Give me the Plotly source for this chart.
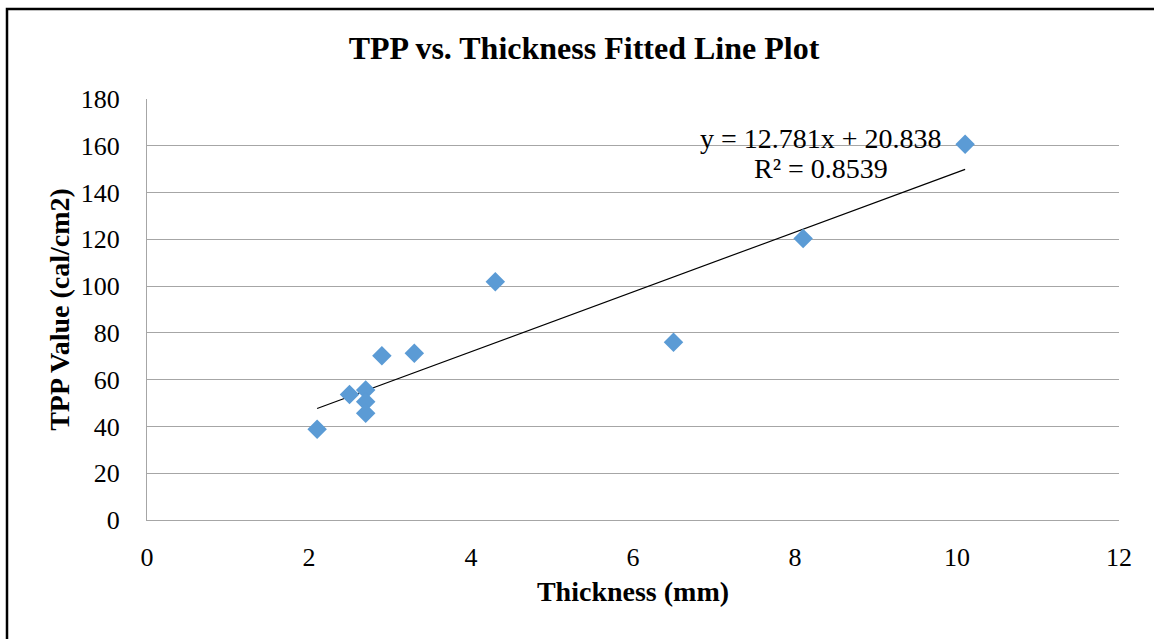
import plotly.graph_objects as go

thickness = [2.1, 2.5, 2.7, 2.7, 2.7, 2.9, 3.3, 4.3, 6.5, 8.1, 10.1]
tpp = [38.8, 53.7, 55.6, 50.6, 45.6, 70.2, 71.3, 101.9, 76.0, 120.4, 160.6]
slope = 12.781
intercept = 20.838
r_squared = 0.8539
x_ticks = [0, 2, 4, 6, 8, 10, 12]
y_ticks = [0, 20, 40, 60, 80, 100, 120, 140, 160, 180]

fit_x = [min(thickness), max(thickness)]
fit_y = [slope * v + intercept for v in fit_x]

FONT = "Liberation Serif, Times New Roman, serif"

fig = go.Figure()
fig.add_trace(go.Scatter(x=fit_x, y=fit_y, mode="lines",
                         line=dict(color="black", width=1.2), showlegend=False, hoverinfo="skip"))
fig.add_trace(go.Scatter(x=thickness, y=tpp, mode="markers",
                         marker=dict(symbol="diamond", size=15, color="#5B9BD5"),
                         showlegend=False))

fig.update_layout(
    width=1154, height=639,
    margin=dict(l=147, r=35, t=99, b=119),
    paper_bgcolor="white", plot_bgcolor="white",
    font=dict(family=FONT, color="black", size=26),
    title=dict(text="<b>TPP vs. Thickness Fitted Line Plot</b>", x=(584 - 0) / 1154, xanchor="center",
               y=1 - 48 / 639, yanchor="middle", font=dict(size=32, family=FONT)),
    xaxis=dict(range=[0, 12], tickvals=x_ticks, showgrid=False, zeroline=False,
               showline=True, linecolor="#a6a6a6", linewidth=1,
               ticks="outside", ticklen=0, tickfont=dict(size=26),
               ticklabelstandoff=14,
               title=dict(text="<b>Thickness (mm)</b>", font=dict(size=28), standoff=10)),
    yaxis=dict(range=[0, 180], tickvals=y_ticks, showgrid=True, gridcolor="#a6a6a6",
               gridwidth=1, zeroline=False, showline=True, linecolor="#a6a6a6", linewidth=1,
               ticks="outside", ticklen=0, tickfont=dict(size=26), ticklabelstandoff=21,
               title=dict(text="<b>TPP Value (cal/cm2)</b>", font=dict(size=28), standoff=2)),
    annotations=[
        dict(text=f"y = {slope}x + {intercept}", x=(821 - 147) / 972, y=(520 - 138) / 421,
             xref="paper", yref="paper", showarrow=False, xanchor="center", yanchor="middle",
             font=dict(size=28, family=FONT)),
        dict(text=f"R² = {r_squared}", x=(821 - 147) / 972, y=(520 - 168) / 421,
             xref="paper", yref="paper", showarrow=False, xanchor="center", yanchor="middle",
             font=dict(size=28, family=FONT)),
    ],
    shapes=[dict(type="rect", xref="paper", yref="paper",
                 x0=(7 - 147) / 972, x1=(1200 - 147) / 972,
                 y0=(520 - 650) / 421, y1=(520 - 9) / 421,
                 line=dict(color="black", width=2.5), fillcolor="rgba(0,0,0,0)", layer="below")],
)

fig.write_html("out.html")
